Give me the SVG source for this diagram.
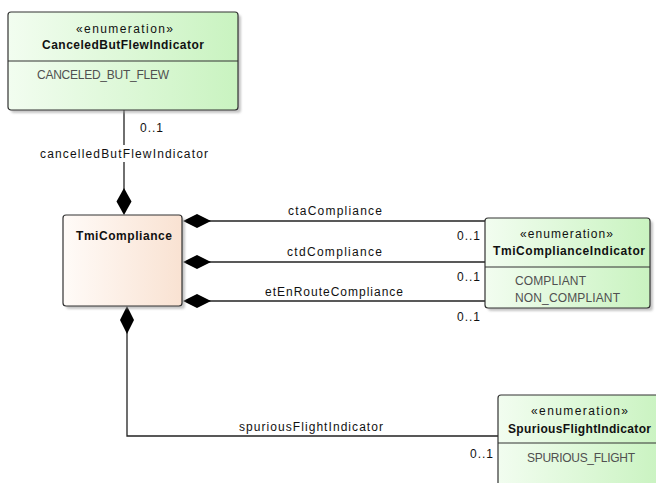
<svg xmlns="http://www.w3.org/2000/svg" width="656" height="483" viewBox="0 0 656 483">
<defs>
<linearGradient id="gGreen" x1="0" y1="0" x2="1" y2="0">
<stop offset="0" stop-color="#f2fdf0"/>
<stop offset="1" stop-color="#c9f3c0"/>
</linearGradient>
<linearGradient id="gPeach" x1="0" y1="0" x2="1" y2="0">
<stop offset="0" stop-color="#fffbf8"/>
<stop offset="1" stop-color="#f9e2d2"/>
</linearGradient>
<filter id="blur" x="-10%" y="-10%" width="120%" height="120%"><feGaussianBlur stdDeviation="1.2"/></filter>
</defs>
<style>
text{font-family:"Liberation Sans",Arial,sans-serif;font-size:12px;fill:#111}
.b{font-weight:bold}
.attr{fill:#505050}
.box{stroke:#333;stroke-width:1.2}
.enum{fill:url(#gGreen)}
.cls{fill:url(#gPeach)}
.shadow{fill:#999;opacity:0.55;filter:url(#blur)}
.div{stroke:#333;stroke-width:1}
.ln{stroke:#222;stroke-width:1.3;fill:none}
.dia{fill:#000;stroke:none}
</style>
<rect width="656" height="483" fill="#fff"/>

<g id="connectors">
<line class="ln" x1="124" y1="110" x2="124" y2="145"/>
<line class="ln" x1="124" y1="162" x2="124" y2="190"/>
<polygon class="dia" points="124,188 131.5,201.5 124,215 116.5,201.5"/>
<text x="140" y="132" textLength="23" lengthAdjust="spacing">0..1</text>
<text x="40" y="158" textLength="168" lengthAdjust="spacing">cancelledButFlewIndicator</text>

<line class="ln" x1="205" y1="221" x2="485" y2="221"/>
<polygon class="dia" points="183,221 197,214 211,221 197,228"/>
<text x="288" y="215" textLength="94" lengthAdjust="spacing">ctaCompliance</text>
<text x="457" y="240" textLength="23" lengthAdjust="spacing">0..1</text>

<line class="ln" x1="205" y1="262" x2="485" y2="262"/>
<polygon class="dia" points="183,262 197,255 211,262 197,269"/>
<text x="287" y="256" textLength="95" lengthAdjust="spacing">ctdCompliance</text>
<text x="457" y="281" textLength="23" lengthAdjust="spacing">0..1</text>

<line class="ln" x1="205" y1="301" x2="485" y2="301"/>
<polygon class="dia" points="183,301 197,294 211,301 197,308"/>
<text x="265" y="296" textLength="138" lengthAdjust="spacing">etEnRouteCompliance</text>
<text x="457" y="321" textLength="23" lengthAdjust="spacing">0..1</text>

<polyline class="ln" points="127,330 127,436 498,436"/>
<polygon class="dia" points="127,306 134,320 127,334 120,320"/>
<text x="239" y="431" textLength="144" lengthAdjust="spacing">spuriousFlightIndicator</text>
<text x="470" y="458" textLength="23" lengthAdjust="spacing">0..1</text>
</g>

<g id="CanceledButFlewIndicator">
<rect class="shadow" x="11" y="15" width="230" height="98" rx="3"/>
<rect class="box enum" x="8" y="12" width="230" height="98" rx="3"/>
<line class="div" x1="8" y1="61" x2="238" y2="61"/>
<text x="76" y="33" textLength="97" lengthAdjust="spacing">«enumeration»</text>
<text class="b" x="42" y="49" textLength="162" lengthAdjust="spacing">CanceledButFlewIndicator</text>
<text class="attr" x="37" y="79" textLength="132" lengthAdjust="spacing">CANCELED_BUT_FLEW</text>
</g>

<g id="TmiCompliance">
<rect class="shadow" x="66" y="218" width="119" height="91" rx="3"/>
<rect class="box cls" x="63" y="215" width="119" height="91" rx="3"/>
<text class="b" x="76" y="240" textLength="96" lengthAdjust="spacing">TmiCompliance</text>
</g>

<g id="TmiComplianceIndicator">
<rect class="shadow" x="488" y="221" width="165" height="90" rx="3"/>
<rect class="box enum" x="485" y="218" width="165" height="90" rx="3"/>
<line class="div" x1="485" y1="267" x2="650" y2="267"/>
<text x="520" y="238" textLength="93" lengthAdjust="spacing">«enumeration»</text>
<text class="b" x="493" y="255" textLength="152" lengthAdjust="spacing">TmiComplianceIndicator</text>
<text class="attr" x="515" y="285" textLength="71" lengthAdjust="spacing">COMPLIANT</text>
<text class="attr" x="515" y="302" textLength="105" lengthAdjust="spacing">NON_COMPLIANT</text>
</g>

<g id="SpuriousFlightIndicator">
<rect class="shadow" x="501" y="398" width="165" height="100" rx="3"/>
<rect class="box enum" x="498" y="395" width="165" height="100" rx="3"/>
<line class="div" x1="498" y1="443" x2="663" y2="443"/>
<text x="531" y="415" textLength="97" lengthAdjust="spacing">«enumeration»</text>
<text class="b" x="508" y="433" textLength="143" lengthAdjust="spacing">SpuriousFlightIndicator</text>
<text class="attr" x="527" y="462" textLength="108" lengthAdjust="spacing">SPURIOUS_FLIGHT</text>
</g>
</svg>
